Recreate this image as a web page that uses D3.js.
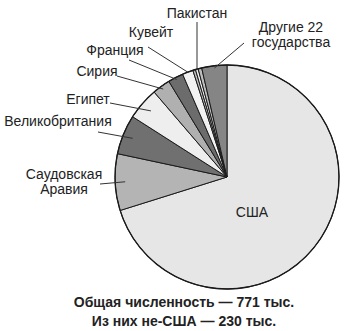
<!DOCTYPE html>
<html>
<head>
<meta charset="utf-8">
<script src="https://cdn.jsdelivr.net/npm/d3@7"></script>
<style>
  body { margin: 0; background: #fff; }
  text { font-family: "Liberation Sans", Arial, sans-serif; fill: #222; }
</style>
</head>
<body>
<svg id="chart"></svg>
<script>
// slices, clockwise from 12 o'clock (thousands)
const countries = ["США", "Саудовская Аравия", "Великобритания", "Египет", "Сирия",
                   "Франция", "Кувейт", "", "Пакистан", "", "Другие 22 государства"];
const values = [541, 63, 44, 36, 20, 17, 12, 3, 3, 4, 28];
const fills = ["#e6e6e6", "#b4b4b4", "#707070", "#eeeeee", "#b0b0b0",
               "#6c6c6c", "#f2f2f2", "#bdbdbd", "#f0f0f0", "#bdbdbd", "#858585"];
const footer = ["Общая численность — 771 тыс.", "Из них не-США — 230 тыс."];

const W = 353, H = 331;
const cx = 227, cy = 177, R = 112;

// label layout: text lines, anchor point, leader start, leader end radius fraction
const labelLayout = {
  "Саудовская Аравия": { lines: ["Саудовская", "Аравия"], x: 64, y: 179, lx: 100, ly: 184, f: 0.91 },
  "Великобритания": { lines: ["Великобритания"], x: 58, y: 126, lx: 98, ly: 132, f: 0.91 },
  "Египет": { lines: ["Египет"], x: 88, y: 104, lx: 110, ly: 103, f: 0.9 },
  "Сирия": { lines: ["Сирия"], x: 97, y: 76, lx: 117, ly: 76, f: 0.97 },
  "Франция": { lines: ["Франция"], x: 115, y: 55, lx: 129, ly: 60, f: 0.98 },
  "Кувейт": { lines: ["Кувейт"], x: 151, y: 37, lx: 148, ly: 47, f: 1.0 },
  "Пакистан": { lines: ["Пакистан"], x: 197, y: 18, lx: 197, ly: 22, f: 0.99, vertical: true },
  "Другие 22 государства": { lines: ["Другие 22", "государства"], x: 291, y: 32, lx: 244, ly: 43, f: 0.98 }
};

const svg = d3.select("#chart").attr("width", W).attr("height", H);

const pie = d3.pie().sort(null).value(d => d.v)
  .startAngle(0).endAngle(2 * Math.PI);
const data = countries.map((c, i) => ({ name: c, v: values[i], fill: fills[i] }));
const arcs = pie(data);

const arc = d3.arc().innerRadius(0).outerRadius(R);

const g = svg.append("g").attr("transform", `translate(${cx},${cy})`);

g.selectAll("path.slice")
  .data(arcs)
  .enter().append("path")
  .attr("class", "slice")
  .attr("d", arc)
  .attr("fill", d => d.data.fill)
  .attr("stroke", "#1a1a1a")
  .attr("stroke-width", 1)
  .attr("stroke-linejoin", "round");

g.append("circle")
  .attr("r", R)
  .attr("fill", "none")
  .attr("stroke", "#1a1a1a")
  .attr("stroke-width", 1.3);

// US label inside
const us = arcs[0];
g.append("text")
  .attr("x", 25).attr("y", 40)
  .attr("text-anchor", "middle")
  .style("font-size", "14px")
  .text(us.data.name);

// outside labels with leader lines
arcs.slice(1).forEach(a => {
  const lay = labelLayout[a.data.name];
  if (!lay) return;
  const mid = (a.startAngle + a.endAngle) / 2;
  const ex = cx + Math.sin(mid) * R * lay.f;
  const ey = cy - Math.cos(mid) * R * lay.f;
  svg.append("line")
    .attr("x1", lay.lx).attr("y1", lay.ly)
    .attr("x2", lay.vertical ? lay.lx : ex).attr("y2", ey)
    .attr("stroke", "#333").attr("stroke-width", 1);
  const t = svg.append("text")
    .attr("text-anchor", "middle")
    .style("font-size", "14px");
  lay.lines.forEach((ln, i) => {
    t.append("tspan").attr("x", lay.x).attr("y", lay.y + i * 15).text(ln);
  });
});

footer.forEach((ln, i) => {
  svg.append("text")
    .attr("x", 184).attr("y", 307 + i * 19)
    .attr("text-anchor", "middle")
    .style("font-size", "14px")
    .style("font-weight", "bold")
    .text(ln);
});
</script>
</body>
</html>
